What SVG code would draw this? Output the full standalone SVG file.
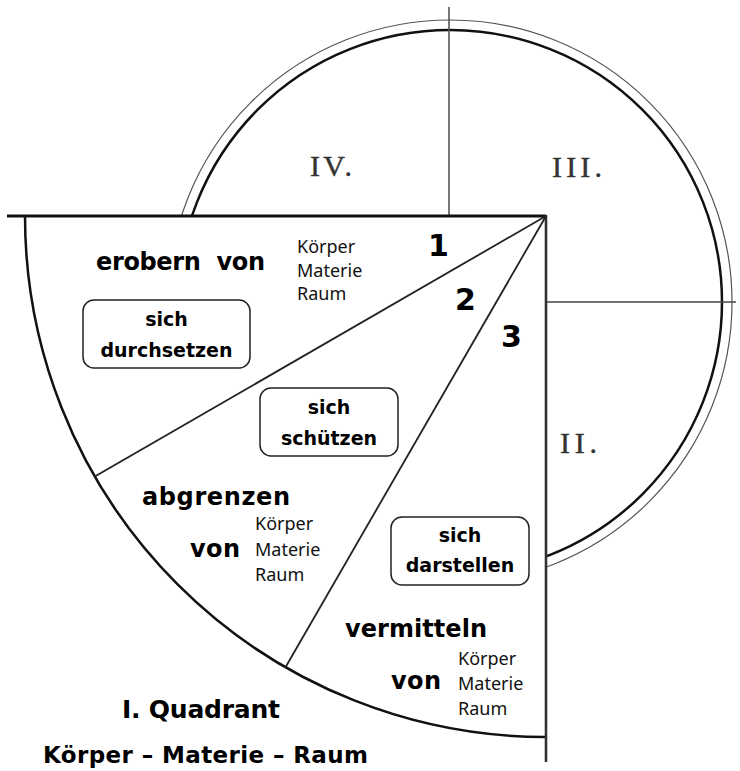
<svg xmlns="http://www.w3.org/2000/svg" width="740" height="771" viewBox="0 0 740 771">
<style>
.b{font-family:"DejaVu Sans","Liberation Sans",sans-serif;font-weight:bold;fill:#000}
.r{font-family:"Noto Sans","DejaVu Sans",sans-serif;font-size:18px;fill:#111}
.rom{font-family:"Liberation Serif","Times New Roman",serif;font-size:30px;fill:#333;stroke:#333;stroke-width:0.4}
.box{fill:#fff;stroke:#222;stroke-width:1.5}
.bt{font-size:19px;text-anchor:middle}
</style>
<rect width="740" height="771" fill="#fff"/>
<g id="circle">
<circle cx="450" cy="302" r="282" fill="none" stroke="#555" stroke-width="1.2"/>
<circle cx="450" cy="302" r="272" fill="none" stroke="#111" stroke-width="2.5"/>
<line x1="449" y1="7" x2="449" y2="216" stroke="#555" stroke-width="1.6"/>
<line x1="546" y1="302" x2="736" y2="302" stroke="#444" stroke-width="1.4"/>
<text class="rom" x="310" y="176" textLength="42">IV.</text>
<text class="rom" x="552" y="177" textLength="50">III.</text>
<text class="rom" x="560" y="453" textLength="37">II.</text>
</g>
<g id="quadrant">
<path d="M546 216 L25 216 A521 521 0 0 0 546 737 Z" fill="#fff" stroke="none"/>
<path d="M25 216 A521 521 0 0 0 546 737" fill="none" stroke="#111" stroke-width="2.5"/>
<line x1="7" y1="216" x2="546" y2="216" stroke="#111" stroke-width="2.8"/>
<line x1="546" y1="215" x2="546" y2="762" stroke="#333" stroke-width="2.6"/>
</g>
<g id="connectors" stroke="#222" stroke-width="1.8">
<line x1="546" y1="216" x2="94.8" y2="476.5"/>
<line x1="546" y1="216" x2="285.5" y2="667.2"/>
</g>
<g id="sector1">
<text class="b" x="96" y="270" font-size="24" textLength="169" lengthAdjust="spacing" xml:space="preserve">erobern  von</text>
<text class="r" x="297" y="253">Körper</text>
<text class="r" x="297" y="277">Materie</text>
<text class="r" x="297" y="300">Raum</text>
<text class="b" x="428" y="256" font-size="30">1</text>
</g>
<g id="box-durchsetzen">
<rect class="box" x="83" y="300" width="167" height="68" rx="11"/>
<text class="b bt" x="166.5" y="326">sich</text>
<text class="b bt" x="166.5" y="357">durchsetzen</text>
</g>
<g id="sector2">
<text class="b" x="455" y="310" font-size="30">2</text>
<text class="b" x="142" y="505" font-size="24" textLength="148" lengthAdjust="spacing">abgrenzen</text>
<text class="b" x="190" y="557" font-size="24" textLength="50" lengthAdjust="spacing">von</text>
<text class="r" x="255" y="530">Körper</text>
<text class="r" x="255" y="556">Materie</text>
<text class="r" x="255" y="581">Raum</text>
</g>
<g id="box-schuetzen">
<rect class="box" x="260" y="388" width="138" height="68" rx="11"/>
<text class="b bt" x="329" y="414">sich</text>
<text class="b bt" x="329" y="445">schützen</text>
</g>
<g id="sector3">
<text class="b" x="501" y="347" font-size="30">3</text>
<text class="b" x="345" y="637" font-size="24" textLength="142" lengthAdjust="spacing">vermitteln</text>
<text class="b" x="391" y="689" font-size="24" textLength="50" lengthAdjust="spacing">von</text>
<text class="r" x="458" y="665">Körper</text>
<text class="r" x="458" y="690">Materie</text>
<text class="r" x="458" y="715">Raum</text>
</g>
<g id="box-darstellen">
<rect class="box" x="391" y="517" width="138" height="68" rx="11"/>
<text class="b bt" x="460" y="542">sich</text>
<text class="b bt" x="460" y="572">darstellen</text>
</g>
<g id="title">
<text class="b" x="122" y="718" font-size="25" textLength="158" lengthAdjust="spacing">I. Quadrant</text>
<text class="b" x="43" y="763" font-size="23" textLength="325" lengthAdjust="spacing">Körper – Materie – Raum</text>
</g>
</svg>
